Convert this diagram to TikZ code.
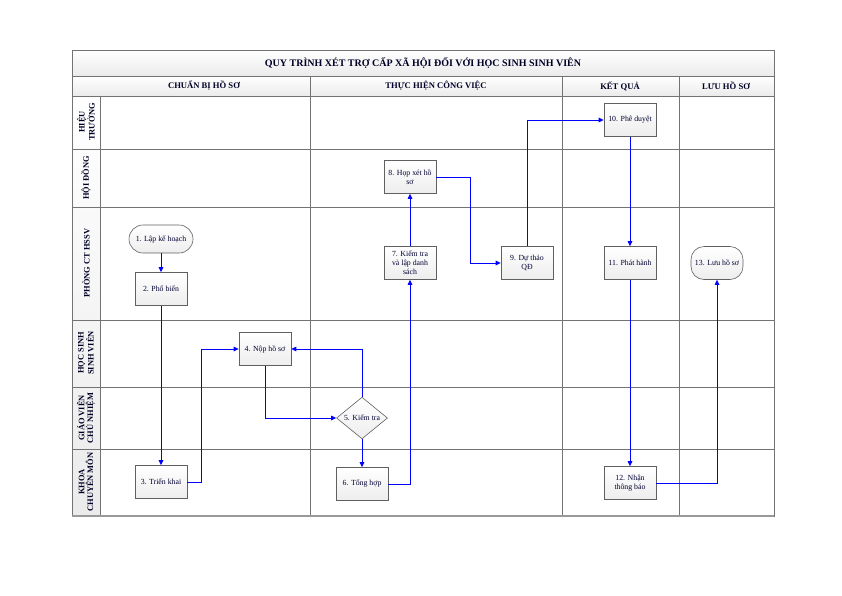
\documentclass[tikz,border=0pt]{standalone}
\usepackage{fontspec}
\setmainfont{Liberation Serif}
\usetikzlibrary{shapes.geometric,arrows.meta}

\tikzset{
  cell/.style={draw=gray!90!black,line width=0.6pt,top color=white,bottom color=gray!16},
  hdr/.style={font=\bfseries\fontsize{8.6}{9.6}\selectfont,text=black!85!blue},
  lane/.style={font=\bfseries\fontsize{8.4}{8.8}\selectfont,rotate=90,align=center,text=black!85!blue},
  task/.style={draw=gray!75!black,line width=0.6pt,top color=white,bottom color=gray!14,
    minimum width=52pt,minimum height=33pt,inner sep=1pt,align=center,
    font=\fontsize{7.8}{9}\selectfont,text=black!80!blue},
  term/.style={task,rounded corners=13pt},
  check/.style={task,diamond,minimum width=51pt,minimum height=31pt,inner sep=0pt},
  flow/.style={draw=blue,line width=1pt,-{Triangle[length=5pt,width=4.5pt]}}
}

\begin{document}
\begin{tikzpicture}[x=1pt,y=-1pt]
\useasboundingbox (0,0) rectangle (842,595);

\path[cell] (72,50) rectangle (774,76);
\path[cell] (72,76) rectangle (774,96);
\path[cell] (72,96) rectangle (100,516);
\draw[gray!90!black,line width=0.6pt] (72,96) rectangle (774,516);
\draw[gray!90!black,line width=0.6pt]
  (72,149) -- (774,149) (72,207) -- (774,207) (72,320) -- (774,320)
  (72,387) -- (774,387) (72,449) -- (774,449)
  (310,76) -- (310,516) (562,76) -- (562,516) (679,76) -- (679,516);
\draw[gray!80,line width=1.4pt] (72,516) -- (774,516);

\node[hdr,font=\bfseries\fontsize{10}{11}\selectfont] (title) at (423,63) {QUY TRÌNH XÉT TRỢ CẤP XÃ HỘI ĐỐI VỚI HỌC SINH SINH VIÊN};
\node[hdr] (colA) at (204,86) {CHUẨN BỊ HỒ SƠ};
\node[hdr] (colB) at (436,86) {THỰC HIỆN CÔNG VIỆC};
\node[hdr] (colC) at (620,86) {KẾT QUẢ};
\node[hdr] (colD) at (726,86) {LƯU HỒ SƠ};

\node[lane] (rowA) at (86,122) {HIỆU\\TRƯỞNG};
\node[lane] (rowB) at (86,178) {HỘI ĐỒNG};
\node[lane] (rowC) at (86,263) {PHÒNG CT HSSV};
\node[lane] (rowD) at (86,353) {HỌC SINH\\SINH VIÊN};
\node[lane] (rowE) at (86,418) {GIÁO VIÊN\\CHỦ NHIỆM};
\node[lane] (rowF) at (86,482) {KHOA\\CHUYÊN MÔN};

\node[term,minimum width=64pt,minimum height=28pt,rounded corners=14pt] (n1) at (161,239) {1. Lập kế hoạch};
\node[task] (n2) at (161,289) {2. Phổ biến};
\node[task] (n3) at (161,482) {3. Triển khai};
\node[task] (n4) at (265,349) {4. Nộp hồ sơ};
\node[check] (n5) at (362,418) {5. Kiểm tra};
\node[task] (n6) at (362,484) {6. Tổng hợp};
\node[task] (n7) at (410,263) {7. Kiểm tra\\và lập danh\\sách};
\node[task] (n8) at (410,177) {8. Họp xét hồ\\sơ};
\node[task] (n9) at (527,263) {9. Dự thảo\\QĐ};
\node[task] (n10) at (630,120) {10. Phê duyệt};
\node[task] (n11) at (630,263) {11. Phát hành};
\node[task] (n12) at (630,483) {12. Nhận\\thông báo};
\node[term] (n13) at (717,263) {13. Lưu hồ sơ};

\draw[flow] (n1) -- (n2);
\draw[flow] (n2) -- (n3);
\draw[flow] (n3.east) -- ++(14,0) |- (n4.west);
\draw[flow] (n4.south) |- (n5.west);
\draw[flow] (n5.north) |- (n4.east);
\draw[flow] (n5) -- (n6);
\draw[flow] (n6.east) -| (n7.south);
\draw[flow] (n7) -- (n8);
\draw[flow] (n8.east) -- ++(34,0) |- (n9.west);
\draw[flow] (n9.north) |- (n10.west);
\draw[flow] (n10) -- (n11);
\draw[flow] (n11) -- (n12);
\draw[flow] (n12.east) -| (n13.south);
\end{tikzpicture}
\end{document}
